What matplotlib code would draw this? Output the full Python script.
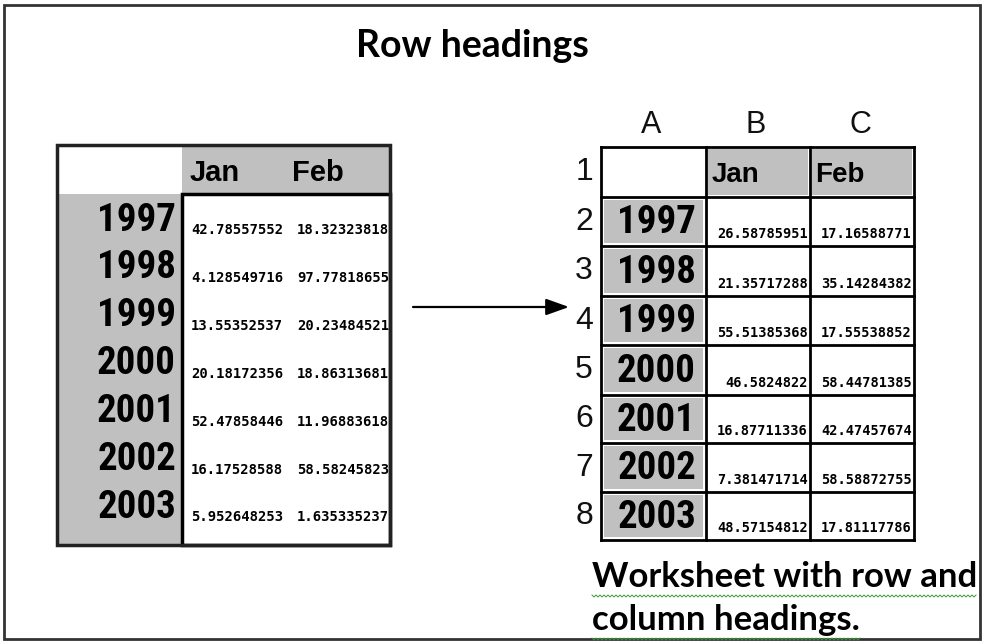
import numpy as np
import matplotlib
matplotlib.use("Agg")
import matplotlib.pyplot as plt
from matplotlib import font_manager
from matplotlib.patches import Rectangle

# ---- data ----
years = ["1997", "1998", "1999", "2000", "2001", "2002", "2003"]
months = ["Jan", "Feb"]
left_jan = [42.78557552, 4.128549716, 13.55352537, 20.18172356,
            52.47858446, 16.17528588, 5.952648253]
left_feb = [18.32323818, 97.77818655, 20.23484521, 18.86313681,
            11.96883618, 58.58245823, 1.635335237]
right_jan = [26.58785951, 21.35717288, 55.51385368, 46.5824822,
             16.87711336, 7.381471714, 48.57154812]
right_feb = [17.16588771, 35.14284382, 17.55538852, 58.44781385,
             42.47457674, 58.58872755, 17.81117786]
col_letters = ["A", "B", "C"]
row_numbers = [str(i) for i in range(1, 9)]

title = "Row headings"
caption = ["Worksheet with row and", "column headings."]

GRAY = "#c0c0c0"


def pick_family(names):
    for name in names:
        try:
            font_manager.findfont(font_manager.FontProperties(family=name),
                                  fallback_to_default=False)
            return name
        except Exception:
            continue
    return "DejaVu Sans"


narrow = pick_family(["Roboto Condensed", "PT Sans Narrow", "Liberation Sans"])
year_size = 28 if narrow != "Liberation Sans" else 26
sans = pick_family(["Liberation Sans", "DejaVu Sans"])
calibri_like = pick_family(["Lato", "Open Sans", "DejaVu Sans"])
mono = "DejaVu Sans Mono"

fig = plt.figure(figsize=(9.84, 6.44), dpi=100)
ax = fig.add_axes([0, 0, 1, 1])
ax.set_xlim(0, 984)
ax.set_ylim(644, 0)
ax.axis("off")

# outer frame
ax.add_patch(Rectangle((4, 5), 976, 634, fill=False, ec="#333333", lw=2))

ax.text(472, 46, title, ha="center", va="center", fontsize=27,
        fontweight="bold", family=calibri_like)

# ---- left table: row headings only ----
lx0, lxh, lx1 = 57, 182, 390
ly0, lyh, ly1 = 145, 194, 545
ax.add_patch(Rectangle((lxh, ly0), lx1 - lxh, lyh - ly0, fc=GRAY, ec="none"))
ax.add_patch(Rectangle((lx0, lyh), lxh - lx0, ly1 - lyh, fc=GRAY, ec="none"))
ax.add_patch(Rectangle((lxh, lyh), lx1 - lxh, ly1 - lyh, fc="white",
                       ec="black", lw=2.5))
ax.add_patch(Rectangle((lx0, ly0), lx1 - lx0, ly1 - ly0, fill=False,
                       ec="#222222", lw=2.5))
ax.text(190, 173, months[0], ha="left", va="center", fontsize=21,
        fontweight="bold", family=sans)
ax.text(292, 173, months[1], ha="left", va="center", fontsize=21,
        fontweight="bold", family=sans)

row_step = 47.9
for i, yr in enumerate(years):
    yc = 220 + i * row_step
    ax.text(176, yc, yr, ha="right", va="center", fontsize=year_size,
            fontweight="bold", style="normal", family=narrow)
    ax.text(283, yc + 10, str(left_jan[i]), ha="right", va="center",
            fontsize=10, fontweight="bold", family=mono)
    ax.text(389, yc + 10, str(left_feb[i]), ha="right", va="center",
            fontsize=10, fontweight="bold", family=mono)

# ---- arrow ----
ax.annotate("", xy=(569, 307), xytext=(413, 307),
            arrowprops=dict(arrowstyle="-|>,head_length=1.4,head_width=0.5",
                            color="black", lw=1.6, shrinkA=0, shrinkB=0))

# ---- right table: worksheet grid ----
xs = [601, 706, 810, 914]
ys = [147, 197, 246, 296, 345, 395, 443, 492, 540]
for r in range(1, 8):
    ax.add_patch(Rectangle((xs[0] + 3, ys[r] + 3), xs[1] - xs[0] - 6,
                           ys[r + 1] - ys[r] - 6, fc=GRAY, ec="none"))
for c in (1, 2):
    ax.add_patch(Rectangle((xs[c] + 2, ys[0] + 2), xs[c + 1] - xs[c] - 4,
                           ys[1] - ys[0] - 4, fc=GRAY, ec="none"))
for x in xs:
    ax.plot([x, x], [ys[0], ys[-1]], color="black", lw=2)
for y in ys:
    ax.plot([xs[0], xs[-1]], [y, y], color="black", lw=2)

for c, letter in enumerate(col_letters):
    ax.text((xs[c] + xs[c + 1]) / 2 - 2, 125, letter, ha="center",
            va="center", fontsize=22, family=sans, color="#111111")
for r, num in enumerate(row_numbers):
    ax.text(593, (ys[r] + ys[r + 1]) / 2, num, ha="right", va="center",
            fontsize=23, family=sans, color="#111111")

ax.text(xs[1] + 6, 175, months[0], ha="left", va="center", fontsize=20,
        fontweight="bold", family=sans)
ax.text(xs[2] + 5, 175, months[1], ha="left", va="center", fontsize=20,
        fontweight="bold", family=sans)

for i, yr in enumerate(years):
    top, bot = ys[i + 1], ys[i + 2]
    ax.text(xs[1] - 10, (top + bot) / 2 + 1, yr, ha="right", va="center",
            fontsize=year_size, fontweight="bold", style="normal",
            family=narrow)
    ax.text(xs[2] - 2, bot - 12, str(right_jan[i]), ha="right", va="center",
            fontsize=9.8, fontweight="bold", family=mono)
    ax.text(xs[3] - 2, bot - 12, str(right_feb[i]), ha="right", va="center",
            fontsize=9.8, fontweight="bold", family=mono)

# ---- caption with spell-check squiggle ----
cap_y = [577, 620]
cap_right = [978, 862]
for line, yc, xr in zip(caption, cap_y, cap_right):
    ax.text(592, yc, line, ha="left", va="center", fontsize=25,
            fontweight="bold", family=calibri_like)
    sx = np.arange(592, xr, 2.0)
    sy = yc + 19 + np.where(np.arange(len(sx)) % 2 == 0, -1.0, 1.0)
    ax.plot(sx, sy, color="#3a9a3a", lw=0.7)

fig.savefig("out.png", dpi=100)
